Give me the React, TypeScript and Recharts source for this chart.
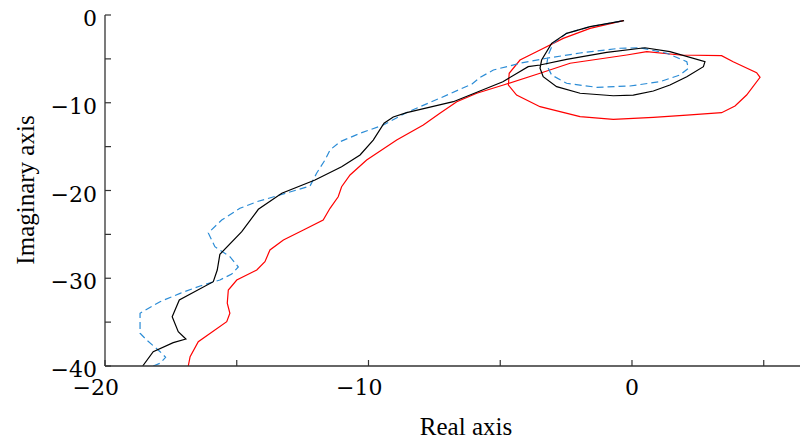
import React from 'react';
import { LineChart, Line, XAxis, YAxis } from 'recharts';

// real / imaginary parts, one pair of arrays per curve
const blackRe = [
  -18.57, -18.17, -17.41, -16.93, -17.22, -17.45, -17.18, -15.89, -15.74, -15.64,
  -14.81, -14.18, -13.29, -12.03, -11.02, -10.32, -9.82, -9.41, -9.06, -8.55,
  -6.78, -5.77, -4.9, -3.94, -3.49, -2.48, -0.96, 0.49, 1.44, 2.77,
  2.71, 2.08, 1.44, 0.81, 0.05, -0.71, -1.97, -2.86, -3.37, -3.49,
  -3.43, -3.05, -2.48, -1.59, -0.3,
];
const blackIm = [
  -40, -38.37, -37.34, -36.92, -36.09, -34.38, -32.48, -30.39, -29.06, -27.27,
  -24.69, -22.14, -20.32, -18.8, -17.29, -15.95, -14.25, -12.34, -11.62, -11.13,
  -9.88, -8.66, -7.6, -5.89, -5.7, -5.05, -4.25, -3.73, -4.18, -5.32,
  -5.89, -7.03, -7.98, -8.66, -9.12, -9.2, -8.92, -8.17, -7.03, -6.07,
  -5.13, -3.23, -2.09, -1.33, -0.65,
];

const blueRe = [
  -18.17, -17.91, -17.7, -17.91, -18.42, -18.67, -18.67, -17.91, -17.15, -16.39,
  -15.64, -15.19, -14.94, -15.26, -15.83, -16.08, -15.57, -14.88, -14.24, -13.36,
  -12.22, -11.97, -11.65, -11.46, -11.08, -10.32, -9.44, -8.55, -7.36, -6.07,
  -5.77, -5.26, -4.25, -3.24, -1.97, -0.46, 0.3, 1.32, 2.08, 2.14,
  1.82, 1.06, -0.08, -1.34, -2.48, -3.05, -3.24, -3.18, -2.99, -2.48,
  -1.59, -0.3,
];
const blueIm = [
  -40, -39.69, -39.01, -38.37, -37.04, -36.27, -33.99, -32.67, -31.72, -30.88,
  -30.2, -29.52, -28.72, -27.54, -26.4, -24.84, -23.36, -22.03, -21.28, -20.51,
  -19.49, -18.04, -16.52, -15.38, -14.44, -13.48, -12.54, -11.11, -9.57, -7.86,
  -7.12, -6.27, -5.5, -4.93, -4.33, -3.79, -3.73, -4.36, -5.32, -6.07,
  -6.84, -7.6, -8.09, -8.24, -7.78, -6.84, -5.7, -4.56, -3.23, -2.09,
  -1.33, -0.65,
];

const redRe = [
  -16.84, -16.77, -16.46, -15.38, -15.26, -15.36, -15.32, -15.0, -14.24, -13.93,
  -13.74, -13.23, -12.47, -11.72, -11.46, -11.15, -11.02, -10.7, -10.07, -8.93,
  -7.92, -7.29, -6.65, -5.89, -4.88, -3.49, -2.35, -0.2, 0.56, 1.82,
  3.4, 3.84, 4.73, 4.86, 4.35, 3.91, 3.4, 2.08, 0.81, -0.71,
  -1.97, -3.49, -4.38, -4.69, -4.66, -4.25, -3.49, -2.61, -1.59, -0.33,
];
const redIm = [
  -40, -38.94, -37.23, -34.95, -33.99, -32.85, -31.34, -30.2, -29.06, -28.11,
  -26.78, -25.64, -24.5, -23.36, -22.03, -20.71, -19.57, -18.23, -16.52, -14.25,
  -12.54, -11.2, -9.88, -8.92, -7.98, -6.64, -5.5, -4.56, -4.18, -4.56,
  -4.64, -5.32, -6.58, -7.1, -9.12, -10.37, -11.13, -11.4, -11.66, -11.89,
  -11.59, -10.45, -9.12, -7.98, -6.64, -5.13, -3.99, -2.66, -1.52, -0.65,
];

const xTicks = [-20, -15, -10, -5, 0, 5];
const xTickLabels: Record<number, string> = { '-20': '\u221220', '-10': '\u221210', 0: '0' };
const yTicks = [-40, -35, -30, -25, -20, -15, -10, -5, 0];
const yTickLabels: Record<number, string> = { '-40': '\u221240', '-30': '\u221230', '-20': '\u221220', '-10': '\u221210', 0: '0' };

const toPoints = (re: number[], im: number[]) => re.map((x, i) => ({ x, y: im[i] }));
const blackData = toPoints(blackRe, blackIm);
const blueData = toPoints(blueRe, blueIm);
const redData = toPoints(redRe, redIm);

const AXIS = '#333';
const tickFont = { fontFamily: '"DejaVu Serif", serif', fontSize: 22, fill: '#000' };
const titleFont = { fontFamily: '"Liberation Serif", serif', fontSize: 25, fill: '#000' };

const BottomTick = (props: any) => {
  const { x, y, payload } = props;
  const label = xTickLabels[payload.value];
  const digits = label ? label.replace('\u2212', '').length : 0;
  return (
    <g>
      <line x1={x} y1={y} x2={x} y2={y - 6} stroke={AXIS} strokeWidth={1.2} />
      {label && (
        <text x={x + digits * 7} y={y + 29} textAnchor="end" {...tickFont}>{label}</text>
      )}
    </g>
  );
};

const TopTick = (props: any) => {
  const { x, y } = props;
  return <line x1={x} y1={y} x2={x} y2={y + 6} stroke={AXIS} strokeWidth={1.2} />;
};

const LeftTick = (props: any) => {
  const { x, y, payload } = props;
  const label = yTickLabels[payload.value];
  return (
    <g>
      <line x1={x} y1={y} x2={x + 6} y2={y} stroke={AXIS} strokeWidth={1.2} />
      {label && (
        <text x={x - 8} y={y + 11} textAnchor="end" {...tickFont}>{label}</text>
      )}
    </g>
  );
};

export default function App() {
  return (
    <LineChart width={800} height={435} margin={{ top: 7, right: 0, bottom: 0, left: 0 }}>
      <XAxis
        xAxisId={0}
        type="number"
        dataKey="x"
        domain={[-20, 6.68]}
        allowDataOverflow
        ticks={xTicks}
        interval={0}
        height={77}
        tickSize={0}
        tickMargin={0}
        tickLine={false}
        tick={<BottomTick />}
        axisLine={{ stroke: AXIS, strokeWidth: 1.3 }}
      />
      <XAxis
        xAxisId="top"
        orientation="top"
        type="number"
        dataKey="x"
        domain={[-20, 6.68]}
        allowDataOverflow
        ticks={xTicks}
        interval={0}
        height={0}
        tickSize={0}
        tickMargin={0}
        tickLine={false}
        tick={<TopTick />}
        axisLine={{ stroke: AXIS, strokeWidth: 1.3 }}
      />
      <YAxis
        type="number"
        dataKey="y"
        domain={[-40, 0]}
        allowDataOverflow
        ticks={yTicks}
        interval={0}
        width={97}
        tickSize={0}
        tickMargin={0}
        tickLine={false}
        tick={<LeftTick />}
        axisLine={{ stroke: AXIS, strokeWidth: 1.3 }}
      />
      <Line data={redData} dataKey="y" type="linear" stroke="#ff0000" strokeWidth={1.2} dot={false} isAnimationActive={false} />
      <Line data={blueData} dataKey="y" type="linear" stroke="#2b8cd6" strokeWidth={1.2} strokeDasharray="7 4" dot={false} isAnimationActive={false} />
      <Line data={blackData} dataKey="y" type="linear" stroke="#000" strokeWidth={1.2} dot={false} isAnimationActive={false} />
      <text x={458} y={427} textAnchor="middle" {...titleFont}>Real axis</text>
      <text x={17} y={182} textAnchor="middle" dominantBaseline="central" transform="rotate(-90 17 182)" {...titleFont}>Imaginary axis</text>
    </LineChart>
  );
}
